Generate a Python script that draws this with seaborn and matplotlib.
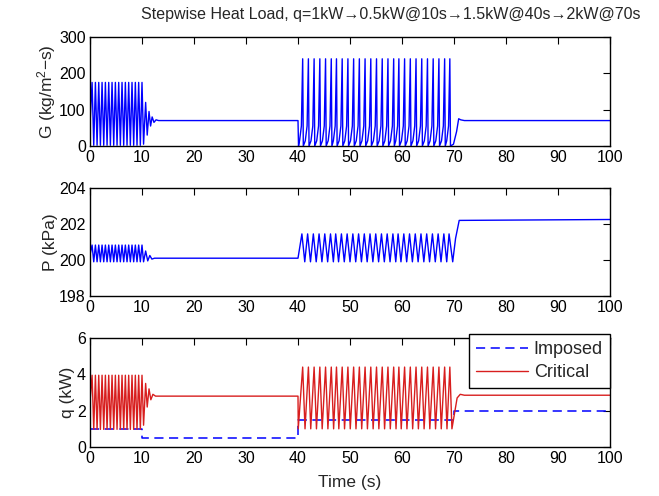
import matplotlib
matplotlib.use("Agg")
import matplotlib.pyplot as plt
import seaborn as sns
import pandas as pd

# ---------------- data ----------------
time_ticks = [0, 10, 20, 30, 40, 50, 60, 70, 80, 90, 100]
G_ticks = [0, 100, 200, 300]
P_ticks = [198, 200, 202, 204]
q_ticks = [0, 2, 4, 6]

# times of oscillation peaks (s)
peaks_a = [0.4, 1.04, 1.68, 2.32, 2.96, 3.6, 4.24, 4.88, 5.52, 6.16, 6.8,
           7.44, 8.08, 8.72, 9.36, 10.0]
peaks_b = [40.9, 42.0, 43.1, 44.2, 45.3, 46.4, 47.4, 48.5, 49.6, 50.7, 51.8,
           52.9, 54.0, 55.1, 56.2, 57.3, 58.4, 59.4, 60.5, 61.6, 62.7, 63.8,
           64.9, 66.0, 67.1, 68.2, 69.2]

# mass flux G (kg/m2-s)
G_start = [(0.0, 60)]
G_osc_a = (175, 2)          # peak, trough
G_decay_a = [(10.3, 5), (10.7, 120), (11.0, 30), (11.35, 95), (11.65, 55),
             (11.95, 80), (12.3, 65), (12.7, 72), (13.2, 70)]
G_hold_a = [(40.0, 70), (40.1, 0)]
G_osc_b = (240, 0)
G_rise_off = [-0.6, -0.25]  # shape of slow rise before each spike
G_rise_lvl = [0.06, 0.23]
G_end = [(69.9, 5), (70.5, 40), (70.9, 75), (71.3, 72), (72.0, 70), (100.0, 70)]

# pressure P (kPa)
P_start = [(0.0, 200.3)]
P_osc_a = (200.83, 199.9)
P_decay_a = [(10.3, 199.9), (10.7, 200.5), (11.1, 199.95), (11.5, 200.25),
             (11.9, 200.05), (12.4, 200.1)]
P_hold_a = [(40.0, 200.1)]
P_osc_b = (201.45, 199.9)
P_end = [(69.75, 199.9), (70.3, 201.2), (71.0, 202.2), (100.0, 202.25)]

# heat load q (kW)
q_start = [(0.0, 2.5)]
q_osc_a = (3.95, 0.97)
q_decay_a = [(10.3, 1.2), (10.7, 3.5), (11.0, 2.2), (11.35, 3.2), (11.7, 2.6),
             (12.1, 2.9), (12.6, 2.8)]
q_hold_a = [(40.0, 2.8), (40.05, 1.0)]
q_osc_b = (4.4, 1.0)
q_end = [(69.6, 1.0), (70.6, 2.7), (71.2, 2.9), (72.0, 2.85), (100.0, 2.85)]

imposed_t = [0, 10, 10, 40, 40, 70, 70, 100]
imposed_q = [1.0, 1.0, 0.5, 0.5, 1.5, 1.5, 2.0, 2.0]


def spikes(peaks, top, base, drop_off, rise_off=(), rise_lvl=()):
    pts = []
    for tp in peaks:
        for o, l in zip(rise_off, rise_lvl):
            pts.append((tp + o, base + l * (top - base)))
        pts.append((tp, top))
        pts.append((tp + drop_off, base))
    return pts


G_pts = (G_start + spikes(peaks_a, *G_osc_a, 0.32)[:-1] + G_decay_a + G_hold_a
         + spikes(peaks_b, *G_osc_b, 0.12, G_rise_off, G_rise_lvl) + G_end)
P_pts = (P_start + spikes(peaks_a, *P_osc_a, 0.32)[:-1] + P_decay_a + P_hold_a
         + spikes([t - 0.15 for t in peaks_b], *P_osc_b, 0.55)[:-1] + P_end)
q_pts = (q_start + spikes(peaks_a, *q_osc_a, 0.32)[:-1] + q_decay_a + q_hold_a
         + spikes(peaks_b, *q_osc_b, 0.45)[:-1] + q_end)

G_df = pd.DataFrame(G_pts, columns=["t", "v"])
P_df = pd.DataFrame(P_pts, columns=["t", "v"])
q_df = pd.DataFrame(q_pts, columns=["t", "v"])
imp_df = pd.DataFrame({"t": imposed_t, "v": imposed_q})

# ---------------- styling ----------------
sns.set_style("white")
plt.rcParams["font.family"] = ["Liberation Sans", "DejaVu Sans"]
plt.rcParams["mathtext.default"] = "regular"

W, H = 659, 496
fig = plt.figure(figsize=(W / 100, H / 100), dpi=100)

def make_ax(top_px, bot_px):
    return fig.add_axes([90 / W, 1 - bot_px / H, 520 / W, (bot_px - top_px) / H])

ax1 = make_ax(37, 146)
ax2 = make_ax(188, 296)
ax3 = make_ax(338, 447)

blue = "#0000ff"
red = "#d81e1e"

sns.lineplot(data=G_df, x="t", y="v", ax=ax1, color=blue, lw=1.0,
             sort=False, estimator=None)
sns.lineplot(data=P_df, x="t", y="v", ax=ax2, color=blue, lw=1.0,
             sort=False, estimator=None)
sns.lineplot(data=imp_df, x="t", y="v", ax=ax3, color=blue, lw=1.1,
             sort=False, estimator=None, label="Imposed", dashes=False)
ax3.lines[-1].set_dashes((6, 3.6))
sns.lineplot(data=q_df, x="t", y="v", ax=ax3, color=red, lw=1.0,
             sort=False, estimator=None, label="Critical")

for ax, yt, ylab in [(ax1, G_ticks, "G (kg/m$^2$\u2212s)"),
                     (ax2, P_ticks, "P (kPa)"),
                     (ax3, q_ticks, "q (kW)")]:
    ax.set_xlim(0, 100)
    ax.set_ylim(yt[0], yt[-1])
    ax.set_xticks(time_ticks)
    ax.set_yticks(yt)
    ax.tick_params(direction="in", length=5, width=0.8, top=True, right=True,
                   labelsize=11.5, colors="black", pad=3)
    for s in ax.spines.values():
        s.set_color("black")
        s.set_linewidth(1.0)
        s.set_visible(True)
    ax.set_ylabel(ylab, fontsize=12.5, labelpad=1)
    ax.set_xlabel("")
    ax.set_facecolor("white")

fig.text(391 / W, 1 - 15 / H,
         "Stepwise Heat Load, q=1kW\u21920.5kW@10s\u21921.5kW@40s\u21922kW@70s",
         fontsize=11.5, ha="center", va="center",
         family=["Liberation Sans", "DejaVu Sans"])
ax3.set_xlabel("Time (s)", fontsize=12.5, labelpad=6)

leg = ax3.legend(loc="upper right", bbox_to_anchor=(1.0, 1.04),
                 borderaxespad=0, fontsize=13, frameon=True, fancybox=False,
                 handlelength=2.9, handletextpad=0.3, borderpad=0.4,
                 labelspacing=0.35)
leg.get_frame().set_edgecolor("black")
leg.get_frame().set_linewidth(1.0)
leg.get_frame().set_alpha(1)

fig.savefig("out.png", dpi=100, facecolor="white")
